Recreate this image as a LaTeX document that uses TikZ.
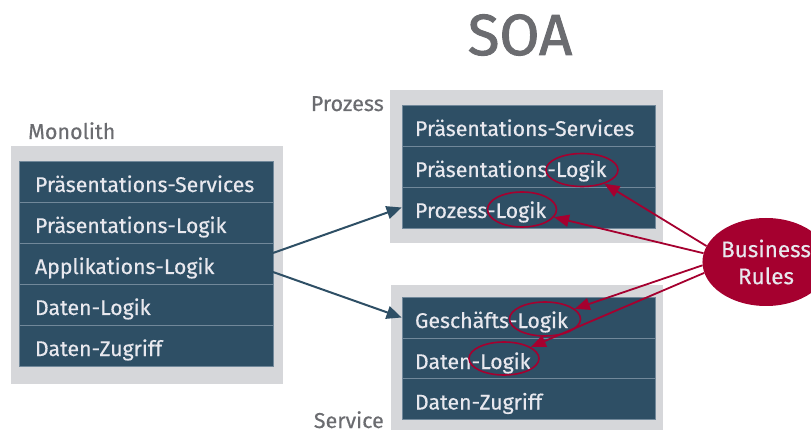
\documentclass[tikz,border=0pt]{standalone}
\usepackage{fontspec}
\setmainfont{Fira Sans}[FakeBold=0.4]
\newfontfamily\titlefont{Fira Sans}[FakeBold=1.6]
\usetikzlibrary{shapes.geometric,arrows.meta}
\definecolor{dblue}{HTML}{2E4F65}
\definecolor{sepline}{HTML}{71889A}
\definecolor{boxgray}{HTML}{D6D7DA}
\definecolor{rowtext}{HTML}{E8E8EE}
\definecolor{labgray}{HTML}{6B6C70}
\definecolor{crim}{HTML}{A5002F}
\begin{document}
\begin{tikzpicture}[x=1pt,y=-1pt,
  graybox/.style={rectangle, fill=boxgray, draw=none, inner sep=0pt},
  rowbox/.style={rectangle, fill=dblue, draw=sepline, line width=0.8pt,
    inner ysep=0pt, minimum height=41pt, text height=22pt, text depth=1pt,
    text=rowtext, font=\fontsize{21.3}{25}\selectfont, align=left},
  monorow/.style={rowbox, inner xsep=16pt, text width=222pt},
  soarow/.style={rowbox, inner xsep=13pt, text width=227pt},
  lab/.style={text=labgray, font=\fontsize{21.5}{26}\selectfont, inner sep=0pt},
  hl/.style={ellipse, draw=crim, line width=1.6pt, inner sep=0pt},
  bluearrow/.style={draw=dblue, line width=2pt, -{Triangle[length=15pt,width=13pt]}},
  redarrow/.style={draw=crim, line width=1.8pt, -{Triangle[length=15pt,width=12pt]}}
]
\useasboundingbox (0,0) rectangle (811,430);

% titles and labels
\node[lab, anchor=base, font=\titlefont\fontsize{58}{60}\selectfont] (soa) at (520,55) {SOA};
\node[lab, anchor=base west] (monolab) at (28,139) {Monolith};
\node[lab, anchor=base east] (prozlab) at (384,111) {Prozess};
\node[lab, anchor=base east] (servlab) at (384,428) {Service};

% gray containers
\node[graybox, minimum width=272pt, minimum height=238pt] (mono) at (147,265) {};
\node[graybox, minimum width=273pt, minimum height=153pt] (proz) at (526.5,166.5) {};
\node[graybox, minimum width=272pt, minimum height=150pt] (serv) at (527,360) {};

% monolith rows
\node[monorow] (m1) at (146,181.5) {\mbox{Präsentations-Services}};
\node[monorow] (m2) at (146,222.5) {\mbox{Präsentations-Logik}};
\node[monorow] (m3) at (146,263.5) {\mbox{Applikations-Logik}};
\node[monorow] (m4) at (146,304.5) {\mbox{Daten-Logik}};
\node[monorow] (m5) at (146,345.5) {\mbox{Daten-Zugriff}};

% process rows
\node[soarow] (p1) at (528.5,125.5) {\mbox{Präsentations-Services}};
\node[soarow] (p2) at (528.5,166.5) {\mbox{Präsentations-Logik}};
\node[soarow] (p3) at (528.5,207.5) {\mbox{Prozess-Logik}};

% service rows
\node[soarow] (s1) at (528.5,317.5) {\mbox{Geschäfts-Logik}};
\node[soarow] (s2) at (528.5,358.5) {\mbox{Daten-Logik}};
\node[soarow] (s3) at (528.5,399) {\mbox{Daten-Zugriff}};

% highlight ellipses
\node[hl, minimum width=72pt, minimum height=33pt] (e1) at (582,170) {};
\node[hl, minimum width=69pt, minimum height=35pt] (e2) at (522,209.5) {};
\node[hl, minimum width=71pt, minimum height=34pt] (e3) at (545,319) {};
\node[hl, minimum width=70pt, minimum height=33pt] (e4) at (504,358.5) {};

% business rules
\node[ellipse, fill=crim, minimum width=108pt, minimum height=88pt, inner sep=0pt,
  text=rowtext, font=\fontsize{22.5}{27}\selectfont, align=center] (br) at (766,262)
  {Business\\Rules};

% blue arrows
\coordinate (a1) at (273,253);
\coordinate (a2) at (273,272);
\draw[bluearrow] (a1) -- (p3.west);
\draw[bluearrow] (a2) -- (s1.west);

% red arrows
\draw[redarrow] (br.165) -- (e1);
\draw[redarrow] (br.172) -- (e2);
\draw[redarrow] (br.183) -- (e3);
\draw[redarrow] (br.190) -- (e4);
\end{tikzpicture}
\end{document}
